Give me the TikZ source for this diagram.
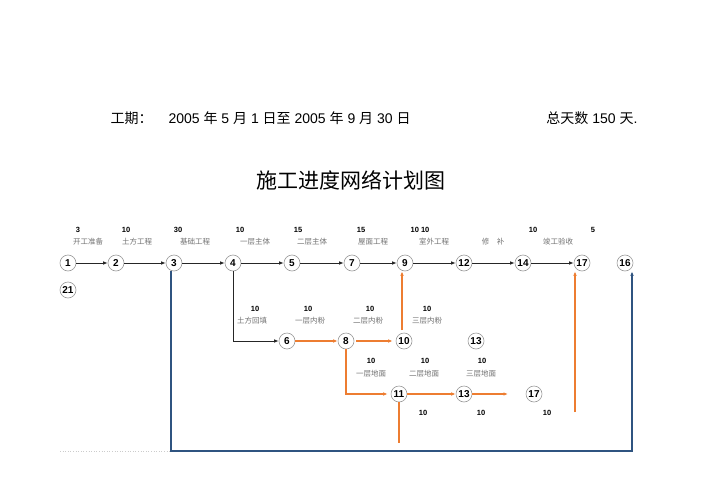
\documentclass[tikz,border=0pt]{standalone}
\usepackage{fontspec}
\setmainfont{Liberation Sans}
\newfontfamily\cjk{Noto Sans CJK SC}
\usetikzlibrary{arrows.meta}

\definecolor{plan}{RGB}{237,125,49}
\definecolor{crit}{RGB}{47,84,128}
\definecolor{taskgray}{RGB}{115,115,115}

\tikzset{
  ev/.style={circle,draw=gray!80,line width=0.6pt,minimum size=16pt,inner sep=0pt,font=\fontsize{10}{10}\selectfont\bfseries},
  dur/.style={font=\fontsize{7.5}{8}\selectfont\bfseries},
  job/.style={text=taskgray,font=\cjk\fontsize{7.5}{8}\selectfont},
  head/.style={font=\fontsize{14}{16}\selectfont},
  arr/.style={-{Latex[length=4.5pt,width=3.5pt]},line width=0.8pt,black!85},
  oarr/.style={-{Latex[length=4.5pt,width=3.5pt]},line width=1.1pt,plan},
  oline/.style={line width=1.1pt,plan},
  barr/.style={-{Latex[length=4.5pt,width=3.5pt]},line width=1.1pt,crit}
}

\begin{document}
\begin{tikzpicture}[x=1pt,y=-1pt]
                \useasboundingbox[fill=white] (0,0) rectangle (708,500);

                % header
                \node[head,anchor=west] (gq) at (107,118) {{\cjk 工期：}};
                \node[head,anchor=west] (rq) at (165,118) {2005 {\cjk 年} 5 {\cjk 月} 1 {\cjk 日至} 2005 {\cjk 年} 9 {\cjk 月} 30 {\cjk 日}};
                \node[head,anchor=east] (zts) at (641,118) {{\cjk 总天数} 150 {\cjk 天}.};
                \node[font=\cjk\fontsize{21}{24}\selectfont] (title) at (351,180) {施工进度网络计划图};

                % events
                \node[ev] (n1) at (68,263) {1};
                \node[ev] (n2) at (116,263) {2};
                \node[ev] (n3) at (174,263) {3};
                \node[ev] (n4) at (233,263) {4};
                \node[ev] (n5) at (292,263) {5};
                \node[ev] (n7) at (352,263) {7};
                \node[ev] (n9) at (405,263) {9};
                \node[ev] (n12) at (464,263) {12};
                \node[ev] (n14) at (523,263) {14};
                \node[ev] (n17) at (582,263) {17};
                \node[ev] (n16) at (625,263) {16};
                \node[ev] (n21) at (68,290) {21};

                \node[ev] (n6) at (287,341) {6};
                \node[ev] (n8) at (346,341) {8};
                \node[ev] (n10) at (404,341) {10};
                \node[ev] (n13a) at (476,341) {13};

                \node[ev] (n11) at (399,394) {11};
                \node[ev] (n13) at (464,394) {13};
                \node[ev] (n17b) at (534,394) {17};

                % durations and jobs, main line
                \node[dur] (d1) at (78,230) {3};
                \node[job] (j1) at (88,242) {开工准备};
                \node[dur] (d2) at (126,230) {10};
                \node[job] (j2) at (137,242) {土方工程};
                \node[dur] (d3) at (178,230) {30};
                \node[job] (j3) at (195,242) {基础工程};
                \node[dur] (d4) at (240,230) {10};
                \node[job] (j4) at (255,242) {一层主体};
                \node[dur] (d5) at (298,230) {15};
                \node[job] (j5) at (312,242) {二层主体};
                \node[dur] (d7) at (361,230) {15};
                \node[job] (j7) at (373,242) {屋面工程};
                \node[dur] (d9) at (420,230) {10 10};
                \node[job] (j9) at (434,242) {室外工程};
                \node[job] (j12) at (493,242) {修\quad 补};
                \node[dur] (d14) at (533,230) {10};
                \node[job] (j14) at (558,242) {竣工验收};
                \node[dur] (d17) at (593,230) {5};

                % second line
                \node[dur] (d41) at (255,309) {10};
                \node[job] (j41) at (252,321) {土方回填};
                \node[dur] (d61) at (308,309) {10};
                \node[job] (j61) at (310,321) {一层内粉};
                \node[dur] (d81) at (370,309) {10};
                \node[job] (j81) at (368,321) {二层内粉};
                \node[dur] (d101) at (427,309) {10};
                \node[job] (j101) at (427,321) {三层内粉};

                % third line
                \node[dur] (d82) at (371,361) {10};
                \node[job] (j82) at (371,374) {一层地面};
                \node[dur] (d111) at (425,361) {10};
                \node[job] (j111) at (424,374) {二层地面};
                \node[dur] (d131) at (482,361) {10};
                \node[job] (j131) at (481,374) {三层地面};
                \node[dur] (d112) at (423,413) {10};
                \node[dur] (d132) at (481,413) {10};
                \node[dur] (d172) at (547,413) {10};

                % main line arrows
                \foreach \a/\b in {n1/n2,n2/n3,n3/n4,n4/n5,n5/n7,n7/n9,n9/n12,n12/n14,n14/n17}
                    \draw[arr] (\a) -- (\b);
                \draw[arr] (n4.south) |- (n6.west);

                % orange arrows
                \draw[oarr] (n6) -- (n8);
                \draw[oarr] (n8.east) ++(2,0) coordinate (o1) -- ([xshift=-3pt]n10.west);
                \draw[oarr] (n8.south) |- ([xshift=-3pt]n11.west);
                \draw[oarr] (n11) -- (n13);
                \coordinate (o2) at (508,394);
                \draw[oarr] (n13.east) -- (o2);
                \coordinate (o3) at (402,330);
                \draw[oarr] (o3) -- (o3 |- n9.south);
                \coordinate (o4) at (399,443);
                \draw[oline] (n11.south) -- (o4);
                \coordinate (o5) at (575,412);
                \draw[oarr] (o5) -- (o5 |- n17.south);

                % blue line
                \coordinate (b1) at (632,451);
                \draw[barr] ([xshift=-3pt]n3.south) |- (b1) -- (b1 |- n16.south);
                \coordinate (g1) at (60,451);
                \draw[gray!40,dotted,line width=0.6pt] (g1) -- ([xshift=-3pt]n3.south |- g1);
            \end{tikzpicture}
\end{document}
